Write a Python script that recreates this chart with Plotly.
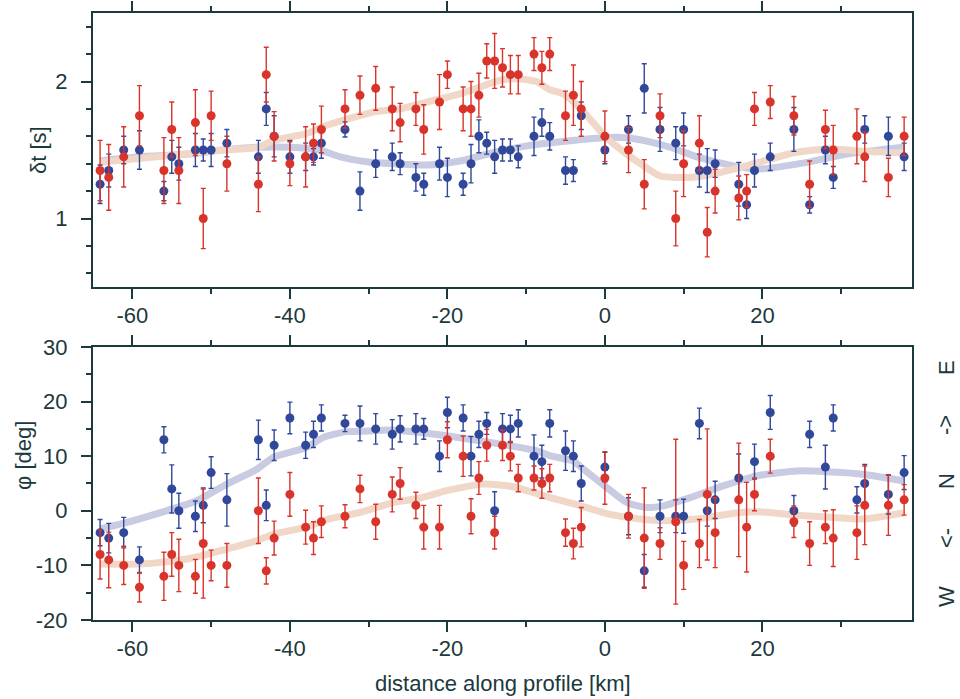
import plotly.graph_objects as go

# ---------------- data ----------------
# top panel (delay time dt [s])
dt_blue_x = [-64.1, -63, -61.1, -59.1, -56, -55, -54.1, -52, -51, -50, -48, -44, -43, -42, -40, -38, -37, -36, -33, -31.1,
             -29.1, -27, -26, -24, -23, -21, -20, -18, -17, -16, -15, -14, -13, -12, -11, -9, -8, -7, -5, -4, -3, 0, 3,
             5, 7, 9, 10, 12, 13, 14, 17, 18, 19, 21, 24, 26, 28, 29, 33, 36, 38]
dt_blue_y = [1.25, 1.35, 1.50, 1.50, 1.20, 1.45, 1.40, 1.50, 1.50, 1.50, 1.55, 1.45, 1.80, 1.60, 1.45, 1.45, 1.45, 1.55, 1.65, 1.20,
             1.40, 1.45, 1.40, 1.30, 1.25, 1.40, 1.30, 1.25, 1.40, 1.60, 1.55, 1.45, 1.50, 1.50, 1.45, 1.60, 1.70, 1.60, 1.35, 1.35, 1.75, 1.50, 1.65,
             1.95, 1.65, 1.55, 1.65, 1.35, 1.35, 1.40, 1.25, 1.10, 1.35, 1.45, 1.65, 1.10, 1.50, 1.30, 1.65, 1.60, 1.45]
dt_blue_e = [0.14, 0.12, 0.10, 0.14, 0.07, 0.12, 0.12, 0.12, 0.08, 0.12, 0.10, 0.12, 0.12, 0.15, 0.12, 0.10, 0.06, 0.11, 0.055, 0.14,
             0.10, 0.10, 0.08, 0.10, 0.08, 0.12, 0.14, 0.08, 0.14, 0.12, 0.08, 0.12, 0.08, 0.08, 0.08, 0.14, 0.10, 0.10, 0.10, 0.08, 0.10, 0.10, 0.10,
             0.18, 0.16, 0.12, 0.12, 0.12, 0.16, 0.10, 0.16, 0.10, 0.12, 0.10, 0.16, 0.06, 0.10, 0.08, 0.10, 0.14, 0.10]

dt_red_x = [-64.1, -63, -61.1, -59.1, -56, -55, -54.1, -52, -51, -50, -48, -44, -43, -42, -40, -38, -37, -36, -33, -31.1,
            -29.1, -27, -26, -24, -23, -21, -20, -18, -17, -16, -15, -14, -13, -12, -11, -9, -8, -7, -5, -4, -3, 0, 3,
            5, 7, 9, 10, 12, 13, 14, 17, 18, 19, 21, 24, 26, 28, 29, 32, 33, 36, 38]
dt_red_y = [1.35, 1.30, 1.45, 1.75, 1.35, 1.65, 1.35, 1.70, 1.00, 1.75, 1.40, 1.25, 2.05, 1.60, 1.40, 1.45, 1.55, 1.65, 1.80, 1.90,
            1.95, 1.80, 1.70, 1.80, 1.65, 1.85, 2.05, 1.80, 1.80, 1.90, 2.15, 2.15, 2.10, 2.05, 2.05, 2.20, 2.10, 2.20, 1.75, 1.90, 1.80, 1.60, 1.50,
            1.25, 1.75, 1.00, 1.40, 1.55, 0.90, 1.20, 1.15, 1.20, 1.80, 1.85, 1.75, 1.25, 1.65, 1.50, 1.60, 1.45, 1.30, 1.60]
dt_red_e = [0.22, 0.24, 0.22, 0.22, 0.24, 0.20, 0.24, 0.24, 0.22, 0.18, 0.20, 0.20, 0.20, 0.18, 0.16, 0.22, 0.14, 0.17, 0.14, 0.14,
            0.16, 0.16, 0.14, 0.12, 0.18, 0.20, 0.10, 0.16, 0.20, 0.16, 0.125, 0.20, 0.14, 0.14, 0.14, 0.12, 0.12, 0.12, 0.18, 0.22, 0.20, 0.185, 0.165,
            0.18, 0.16, 0.20, 0.24, 0.20, 0.18, 0.16, 0.16, 0.12, 0.12, 0.12, 0.14, 0.17, 0.14, 0.18, 0.20, 0.18, 0.14, 0.14]

dt_fit_red_x = [-64.1, -56.9, -48.5, -44, -42.1, -37.9, -35.8, -32.4, -29.1, -26, -22.6, -18.4, -16.3, -13.3, -11.2, -8.7, -7,
                -5.3, -3.2, 0.2, 2.8, 4.5, 7, 10.8, 14.2, 18.9, 24, 28.6, 32.8, 37.9]
dt_fit_red_y = [1.41, 1.45, 1.50, 1.52, 1.57, 1.62, 1.67, 1.73, 1.78, 1.80, 1.85, 1.91, 1.95, 2.01, 2.02, 2.00, 1.94,
                1.91, 1.81, 1.59, 1.47, 1.40, 1.31, 1.30, 1.33, 1.40, 1.48, 1.51, 1.49, 1.48]
dt_fit_blue_x = [-64.1, -59.1, -52.7, -48.5, -44.1, -40, -36.2, -33.6, -29.8, -26.9, -22.6, -18.4, -14.2, -9.9, -5.7, -0.2,
                 2.8, 4.9, 8.3, 11.7, 15.9, 19.3, 25.7, 30.7, 37.9]
dt_fit_blue_y = [1.42, 1.45, 1.47, 1.50, 1.52, 1.52, 1.50, 1.45, 1.41, 1.40, 1.39, 1.42, 1.48, 1.53, 1.56, 1.59,
                 1.59, 1.57, 1.52, 1.45, 1.39, 1.36, 1.41, 1.47, 1.52]

# bottom panel (fast polarisation direction phi [deg])
phi_blue_x = [-64.1, -63, -61.1, -59.1, -56, -55, -54.1, -52, -51, -50, -48, -44, -43, -42, -40, -38, -37, -36, -33, -31.1,
              -29.1, -27, -26, -24, -23, -21, -20, -18, -17, -16, -15, -14, -13, -12, -11, -9, -8, -7, -5, -4, -3, 0, 3,
              5, 7, 9, 10, 12, 13, 14, 17, 19, 21, 24, 26, 28, 29, 32, 33, 36, 38]
phi_blue_y = [-4, -5, -4, -9, 13, 4, 0, -1, 1, 7, 2, 13, 1, 12, 17, 12, 14, 17, 16, 16,
              15, 14, 15, 15, 15, 10, 18, 17, 10, 14, 16, 0, 15, 15, 16, 10, 9, 16, 11, 10, 5, 8, -1,
              -11, -1, -1, -1, 16, 0, 2, 6, 9, 18, 0, 14, 8, 17, 2, 5, 3, 7]
phi_blue_e = [2.4, 2.7, 2.8, 2.4, 2.4, 4.4, 3.2, 2.8, 3.2, 2.9, 4.8, 3.6, 2.8, 2.8, 2.9, 2.4, 2.4, 2.4, 1.5, 3.2,
              2.8, 2.7, 2.4, 2.8, 1.9, 2.8, 2.8, 2.4, 3.6, 2.4, 2.0, 3.5, 2.8, 2.5, 2.5, 3.9, 3.0, 2.5, 3.6, 2.8, 3.2, 2.7, 3.4,
              3.0, 3.0, 3.0, 3.1, 2.8, 2.8, 3.4, 4.4, 3.2, 3.1, 2.8, 2.4, 4.0, 2.4, 2.4, 3.5, 3.6, 3.1]

phi_red_x = [-64.1, -63, -61.1, -59.1, -56, -55, -54.1, -52, -51, -50, -48, -44, -43, -42, -40, -38, -37, -36, -33, -31.1,
             -29.1, -27, -26, -24, -23, -21, -20, -18, -17, -16, -15, -14, -13, -12, -11, -9, -8, -7, -5, -4, -3, 0, 3,
             5, 7, 9, 10, 12, 13, 14, 17, 18, 19, 21, 24, 26, 28, 29, 32, 33, 36, 38]
phi_red_y = [-8, -9, -10, -14, -12, -8, -10, -12, -6, -10, -10, 0, -11, -5, 3, -3, -5, -2, -1, 4,
             -2, 3, 5, 1, -3, -3, 13, 10, -1, 6, 12, -4, 12, 10, 6, 6, 5, 6, -4, -6, -3, 6, -1,
             -5, -6, -2, -10, -6, 3, -4, 2, -3, 3, 10, -2, -6, -3, -5, -4, 1, 1, 2]
phi_red_e = [4.5, 5.1, 3.5, 2.7, 4.4, 4.0, 4.8, 3.1, 10.0, 2.8, 4.0, 6.0, 2.4, 3.1, 4.0, 3.1, 3.0, 2.9, 2.1, 2.5,
             3.2, 3.2, 2.9, 2.4, 4.0, 4.0, 3.3, 3.7, 3.2, 3.0, 2.9, 3.0, 2.8, 2.7, 2.5, 2.2, 2.7, 2.5, 2.5, 2.8, 3.6, 4.8, 4.0,
             9.2, 2.9, 15.1, 4.4, 4.4, 12.0, 6.4, 10.4, 8.2, 3.0, 3.1, 2.9, 4.0, 3.0, 5.2, 4.9, 7.2, 5.5, 2.8]

phi_fit_blue_x = [-64.1, -61.4, -55.7, -51.9, -48, -44.2, -42.1, -37.9, -35.8, -32.8, -29.8, -27.7, -22.6, -17.1, -12,
                  -8.7, -7, -4, -2.7, 0.2, 2.8, 5.3, 7.4, 10.8, 15.1, 19.3, 24.4, 28.7, 32.7, 37.9]
phi_fit_blue_y = [-3.3, -2.4, 0, 1.8, 4.9, 7.6, 9.8, 11.6, 13.4, 14.5, 14.6, 14.8, 14.2, 13.1, 11.9,
                  11.0, 10.1, 9.1, 7.6, 4.3, 1.5, 0.6, 0.9, 2.4, 4.6, 6.4, 7.3, 7.1, 6.7, 5.5]
phi_fit_red_x = [-64.1, -59.1, -56.1, -51.9, -48, -44.2, -42.1, -37.9, -35, -31.1, -26.9, -23.5, -20.1, -15.4, -12,
                 -8.7, -6.7, -3.8, 0.5, 4.5, 7.4, 11.6, 17.2, 20.1, 24.4, 28.6, 32.8, 37.9]
phi_fit_red_y = [-9.75, -9.75, -9.4, -8.5, -7.0, -5.5, -4.3, -3.0, -1.5, -0.3, 1.5, 2.3, 3.7, 4.9, 4.5,
                 3.2, 2.3, 1.2, -0.6, -1.5, -1.8, -1.5, -0.3, -0.2, -0.8, -1.2, -1.5, -0.4]

x_tickvals = [-60, -40, -20, 0, 20]
x_ticktext = ["-60", "-40", "-20", "0", "20"]
x_minor = [-50, -30, -10, 10, 30]
dt_tickvals = [1, 2]
dt_ticktext = ["1", "2"]
dt_minor = [0.6, 0.8, 1.2, 1.4, 1.6, 1.8, 2.2, 2.4]
dt_right_ticks = [0.6, 0.8, 1.0, 1.2, 1.4, 1.6, 1.8, 2.0, 2.2, 2.4]
phi_tickvals = [-20, -10, 0, 10, 20, 30]
phi_ticktext = ["-20", "-10", "0", "10", "20", "30"]
phi_minor = [-15, -5, 5, 15, 25]

# ---------------- style ----------------
RED = "#d9342b"
BLUE = "#30479a"
RED_FIT = "#f0d7c8"
BLUE_FIT = "#c8cbe1"
INK = "#1c393d"
FONT = "Liberation Sans, Arial, sans-serif"
FS = 22

fig = go.Figure()


def add_fit(x, y, color, xa, ya):
    fig.add_trace(go.Scatter(x=x, y=y, mode="lines", xaxis=xa, yaxis=ya,
                             line=dict(color=color, width=7, shape="spline", smoothing=0.6),
                             hoverinfo="skip", showlegend=False))


def add_pts(x, y, e, color, xa, ya):
    fig.add_trace(go.Scatter(x=x, y=y, mode="markers", xaxis=xa, yaxis=ya,
                             marker=dict(color=color, size=9, line=dict(width=0)),
                             error_y=dict(type="data", array=e, color=color, thickness=1.4, width=2.5),
                             showlegend=False))


add_fit(dt_fit_blue_x, dt_fit_blue_y, BLUE_FIT, "x", "y")
add_fit(dt_fit_red_x, dt_fit_red_y, RED_FIT, "x", "y")
add_pts(dt_blue_x, dt_blue_y, dt_blue_e, BLUE, "x", "y")
add_pts(dt_red_x, dt_red_y, dt_red_e, RED, "x", "y")

add_fit(phi_fit_blue_x, phi_fit_blue_y, BLUE_FIT, "x2", "y2")
add_fit(phi_fit_red_x, phi_fit_red_y, RED_FIT, "x2", "y2")
add_pts(phi_blue_x, phi_blue_y, phi_blue_e, BLUE, "x2", "y2")
add_pts(phi_red_x, phi_red_y, phi_red_e, RED, "x2", "y2")

minor_common = dict(ticks="outside", ticklen=5, tickwidth=1.5, tickcolor=INK)


def xaxis(anchor):
    return dict(range=[-65, 39], anchor=anchor, tickvals=x_tickvals, ticktext=x_ticktext,
                ticks="outside", ticklen=10, tickwidth=1.5, tickcolor=INK,
                minor=dict(tickvals=x_minor, **minor_common),
                showline=True, linewidth=2, linecolor=INK, mirror="ticks",
                showgrid=False, zeroline=False, ticklabelstandoff=-2, automargin=False,
                tickfont=dict(family=FONT, size=FS, color=INK))


fig.update_layout(
    width=960, height=699,
    margin=dict(l=93, r=48, t=13, b=79, autoexpand=False),
    paper_bgcolor="white", plot_bgcolor="white",
    font=dict(family=FONT, size=FS, color=INK),
    xaxis=xaxis("y"),
    xaxis2=xaxis("y2"),
    yaxis=dict(domain=[0.5486, 1.0], range=[0.5, 2.5], anchor="x",
               tickvals=dt_tickvals, ticktext=dt_ticktext,
               ticks="outside", ticklen=10, tickwidth=1.5, tickcolor=INK,
               minor=dict(tickvals=dt_minor, **minor_common),
               showline=True, linewidth=2, linecolor=INK, mirror=True,
               showgrid=False, zeroline=False, ticklabelstandoff=9, automargin=False,
               tickfont=dict(family=FONT, size=FS, color=INK)),
    yaxis3=dict(overlaying="y", side="right", anchor="x", range=[0.5, 2.5],
                tickvals=dt_right_ticks, showticklabels=False,
                ticks="outside", ticklen=5, tickwidth=1.5, tickcolor=INK,
                showline=False, showgrid=False, zeroline=False, automargin=False),
    yaxis2=dict(domain=[0.0, 0.4498], range=[-20, 30], anchor="x2",
                tickvals=phi_tickvals, ticktext=phi_ticktext,
                ticks="outside", ticklen=10, tickwidth=1.5, tickcolor=INK,
                minor=dict(tickvals=phi_minor, **minor_common),
                showline=True, linewidth=2, linecolor=INK, mirror=True,
                showgrid=False, zeroline=False, ticklabelstandoff=9, automargin=False,
                tickfont=dict(family=FONT, size=FS, color=INK)),
)

ann_font = dict(family=FONT, size=FS, color=INK)
annotations = [
    dict(text="δt [s]", x=(38 - 93) / 819, y=(620 - 150) / 607, textangle=-90),
    dict(text="φ [deg]", x=(23 - 93) / 819, y=(620 - 456) / 607, textangle=-90),
    dict(text="distance along profile [km]", x=0.5, y=-0.104, textangle=0),
]
right_labels = [("E", 368), ("->", 425), ("N", 481), ("<-", 538), ("W", 597)]
for t, py in right_labels:
    annotations.append(dict(text=t, x=(946 - 93) / 819, y=(620 - py) / 607, textangle=-90))
fig.update_layout(annotations=[dict(a, xref="paper", yref="paper", showarrow=False,
                                    xanchor="center", yanchor="middle", font=ann_font)
                               for a in annotations])

fig.write_html("out.html")
